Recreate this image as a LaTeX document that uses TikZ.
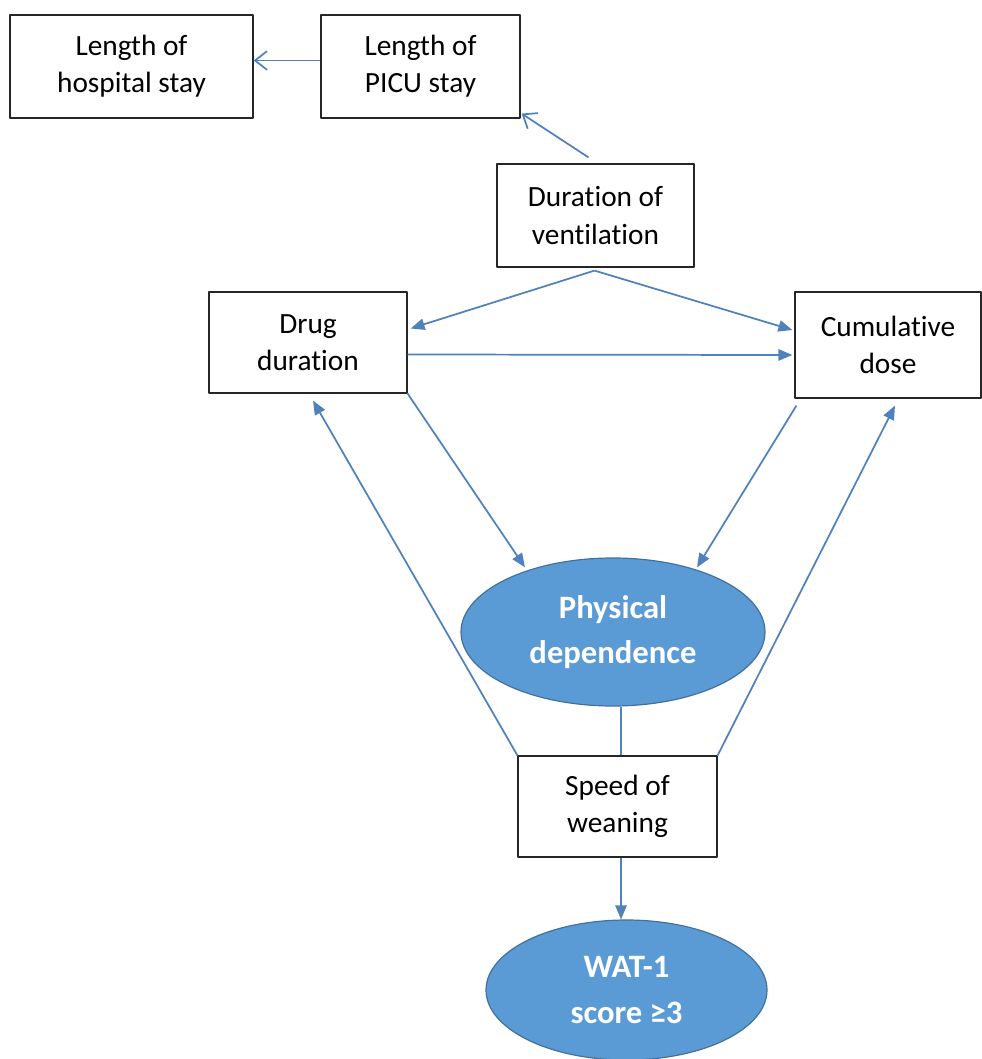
\documentclass[tikz,border=0pt]{standalone}
\usepackage{fontspec}
\setmainfont{Carlito}[Ligatures=NoCommon]
\usetikzlibrary{arrows.meta,shapes.geometric,calc}
\definecolor{linkblue}{HTML}{4F81BD}
\definecolor{ovalfill}{HTML}{5B9BD5}
\definecolor{ovaledge}{HTML}{41719C}
\begin{document}
\begin{tikzpicture}[x=0.75pt, y=-0.75pt, font=\fontsize{22}{28}\selectfont, line join=round, >={Triangle[length=10.5pt,width=8.5pt]},
	factor/.style={draw=black!85, line width=0.9pt, align=center, inner sep=0pt},
	outcome/.style={ellipse, draw=ovaledge, line width=0.9pt, fill=ovalfill, text=white, font=\fontsize{24.5}{34}\selectfont\bfseries, align=center, inner sep=0pt},
	link/.style={draw=linkblue, line width=1.3pt},
	openlink/.style={link, -{Straight Barb[length=9pt,width=14pt]}}]
	\useasboundingbox (0,0) rectangle (981,1059);
	% boxes
	\node[factor, minimum width=243*0.75pt, minimum height=103*0.75pt] (hosp) at (131.5,66.5) {Length of\\hospital stay};
	\node[factor, minimum width=199*0.75pt, minimum height=103*0.75pt] (picu) at (420.5,66.5) {Length of\\PICU stay};
	\node[factor, minimum width=197*0.75pt, minimum height=103*0.75pt] (vent) at (595.5,215.5) {Duration of\\ventilation};
	\node[factor, minimum width=198*0.75pt, minimum height=101*0.75pt] (drug) at (308,342.5) {Drug\\duration};
	\node[factor, minimum width=186*0.75pt, minimum height=106*0.75pt] (cum) at (888,345) {Cumulative\\dose};
	\node[factor, minimum width=199*0.75pt, minimum height=101*0.75pt] (speed) at (617.5,806.5) {Speed of\\weaning};
	% ovals
	\node[outcome, minimum width=304*0.75pt, minimum height=148*0.75pt] (phys) at (613,632) {Physical\\dependence};
	\node[outcome, minimum width=281*0.75pt, minimum height=140*0.75pt] (wat) at (626.5,990) {WAT-1\\score ≥3};
	% links
	\draw[openlink] ($(picu.west)+(0,-6)$) -- ($(hosp.east)+(0,-6)$);
	\draw[openlink] ($(vent.north)+(-7,-6)$) -- ($(picu.south east)+(1,-5)$);
	\draw[link,->] ($(vent.south)+(-1,3)$) -- ($(drug.east)+(3,-14)$);
	\draw[link,->] ($(vent.south)+(-1,3)$) -- ($(cum.west)+(-2,-15)$);
	\draw[link,->] ($(drug.east)+(0,12)$) -- ($(cum.west)+(-2,10)$);
	\draw[link,->] (drug.south east) -- ($(phys.north)+(-88,10)$);
	\draw[link,->] ($(cum.south west)+(2,7)$) -- ($(phys.north)+(84,10)$);
	\draw[link,->] (speed.north west) -- ($(drug.south)+(5,7)$);
	\draw[link,->] (speed.north east) -- ($(cum.south)+(7,7)$);
	\draw[link] ($(phys.south)+(8,0)$) -- ($(speed.north)+(3.5,0)$);
	\draw[link,->] ($(speed.south)+(3.5,0)$) -- ($(wat.north)+(-5.5,0)$);
\end{tikzpicture}
\end{document}
